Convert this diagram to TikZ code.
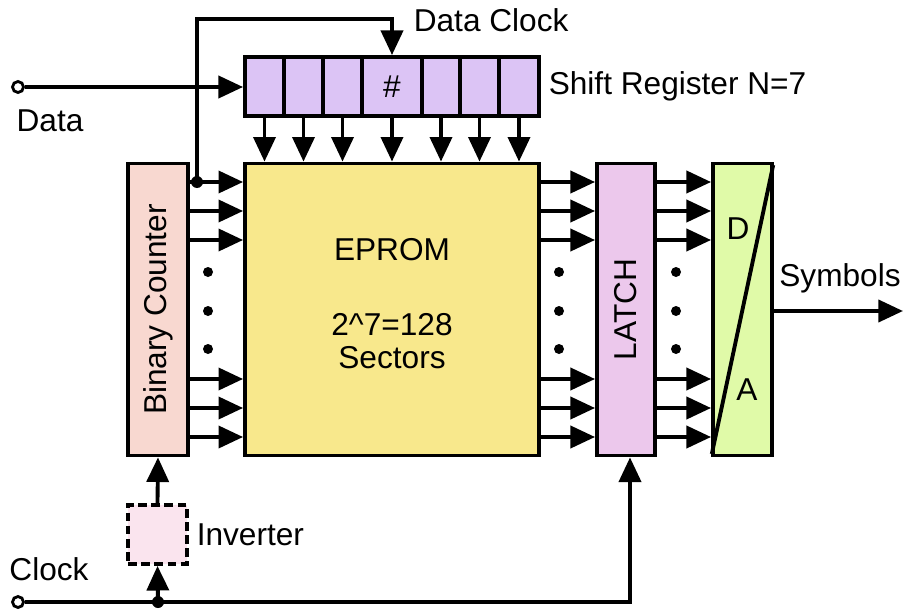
\documentclass[tikz,border=0pt]{standalone}
\usepackage{fontspec}
\setmainfont{Liberation Sans}
\usetikzlibrary{arrows.meta}
\definecolor{regfill}{RGB}{220,196,245}
\definecolor{cntfill}{RGB}{248,216,208}
\definecolor{epromfill}{RGB}{248,232,140}
\definecolor{latchfill}{RGB}{236,200,236}
\definecolor{dafill}{RGB}{224,250,168}
\definecolor{invfill}{RGB}{250,228,238}
\begin{document}
\begin{tikzpicture}[x=0.02cm,y=-0.02cm,line width=2.2pt,
  font=\fontsize{18}{21}\selectfont,
  >={Triangle[length=14pt,width=12.5pt]},
  blk/.style={draw,minimum width=1.2cm,minimum height=5.84cm,inner sep=0pt},
  cell/.style={draw,fill=regfill,minimum height=1.18cm,inner sep=0pt},
  jdot/.style={circle,fill,inner sep=0pt,minimum size=0.24cm},
  odot/.style={circle,draw,fill=white,line width=1.6pt,inner sep=0pt,minimum size=0.22cm},
  bdot/.style={circle,fill,inner sep=0pt,minimum size=0.2cm}]
\useasboundingbox (0,0) rectangle (906,612);
\node[blk,fill=cntfill] (counter) at (158,309.5) {};
\node[rotate=90] (cntlabel) at (counter.center) {Binary Counter};
\node[blk,fill=epromfill,minimum width=5.88cm] (eprom) at (392,309.5) {};
\node[blk,fill=latchfill,minimum width=1.16cm] (latch) at (626,309.5) {};
\node[rotate=90] (latchlabel) at (latch.center) {LATCH};
\node[blk,fill=dafill,minimum width=1.18cm] (da) at (742.5,309.5) {};
\draw[shorten <=2pt,shorten >=2pt] (da.south west) -- (da.north east);
\node (dlabel) at (738,229) {D};
\node (alabel) at (747,390) {A};
\node[draw,fill=invfill,dash pattern=on 5pt off 2.5pt,minimum width=1.18cm,minimum height=1.18cm] (inv) at (157.5,534.5) {};
\foreach \i/\cx/\w in {1/264.5/0.78,2/303.5/0.78,3/342.5/0.78,4/392/1.2,5/441/0.76,6/479.5/0.78,7/519/0.8}
  \node[cell,minimum width=\w cm] (s\i) at (\cx,86.5) {};
\node (hash) at (s4.center) {\#};
\foreach \i in {1,...,7}
  \draw[->] (s\i.south) -- (s\i.south |- eprom.north);
\foreach \y in {182,211,240,379,408,437} {
  \coordinate (row) at (0,\y);
  \draw[->] (counter.east |- row) -- (eprom.west |- row);
  \draw[->] (eprom.east |- row) -- (latch.west |- row);
  \draw[->] (latch.east |- row) -- (da.west |- row);
}
\foreach \y in {272,311,349} {
  \node[bdot] (ca\y) at (208,\y) {};
  \node[bdot] (eb\y) at (559,\y) {};
  \node[bdot] (lc\y) at (676,\y) {};
}
\node[jdot] (tap) at (197,182) {};
\coordinate (clkturn) at (197,19);
\draw[->] (tap.center) -- (clkturn) -| (s4.north);
\node[anchor=west] (dclabel) at (406,20) {Data Clock};
\node[anchor=west] (srlabel) at (541,86) {Shift Register N=7};
\node[odot] (datain) at (18,87) {};
\draw[->] (datain) -- (datain -| s1.west);
\node (datalabel) at (50,121) {Data};
\node[odot] (clkin) at (18,602) {};
\node[jdot] (split) at (158,602) {};
\draw (clkin) -- (split.center);
\draw[->] (split.center) -| ([xshift=0.08cm]latch.south);
\draw[->] (split.center) -- (inv.south);
\draw[->] (inv.north) -- (counter.south);
\node (clocklabel) at (49,569) {Clock};
\node[anchor=west] (invlabel) at (189,535) {Inverter};
\node (eplabel) at (392,250) {EPROM};
\node (sizelabel) at (392,325) {2\textasciicircum7=128};
\node (seclabel) at (392,358) {Sectors};
\coordinate (symout) at (903,311);
\draw[->] (da.east |- symout) -- (symout);
\node (symlabel) at (840,278) {Symbols};
\end{tikzpicture}
\end{document}
